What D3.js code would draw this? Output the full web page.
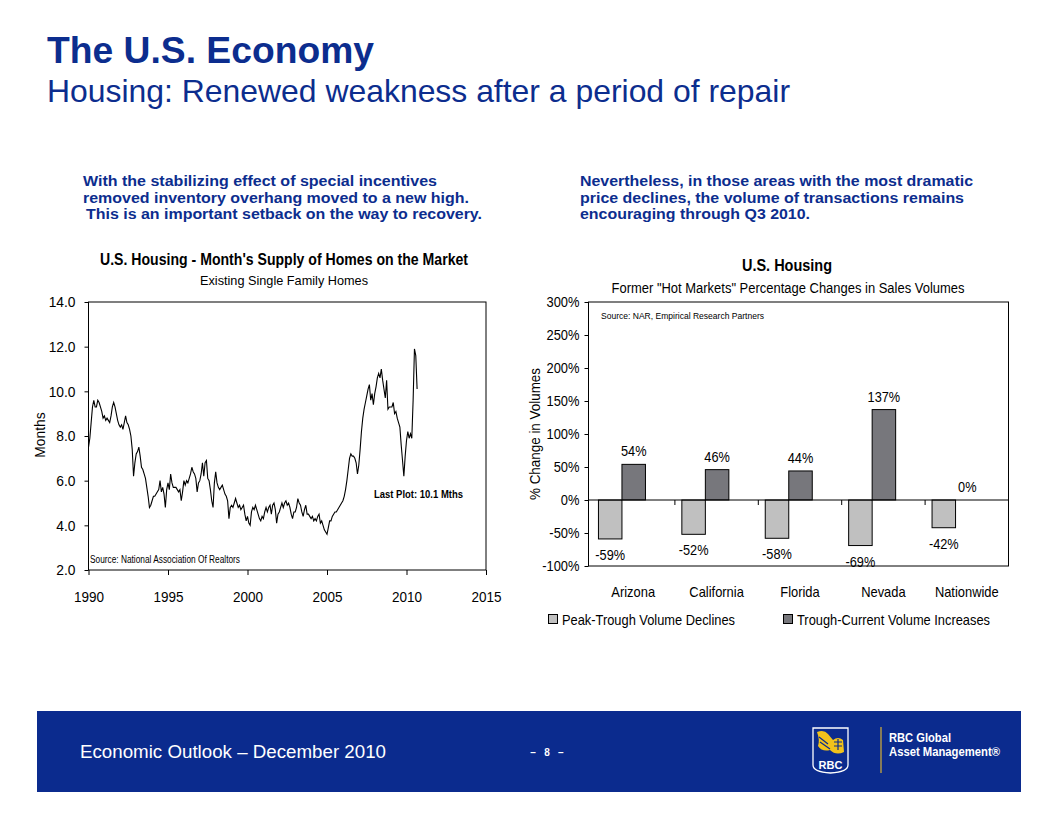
<!DOCTYPE html>
<html>
<head>
<meta charset="utf-8">
<script src="https://cdn.jsdelivr.net/npm/d3@7"></script>
<style>
  body { margin: 0; background: #fff; }
  svg text { font-family: "Liberation Sans", Arial, sans-serif; }
</style>
</head>
<body>
<div id="slide"></div>
<script>
// month's supply of existing single family homes, monthly from Jan 1990
const supplyStart = 1990;
const monthsSupply = [
    7.5, 7.9, 8.6, 9.3, 9.6, 9.3, 9.3, 9.6, 9.5, 9.3, 9.1, 8.8,   // 1990
    8.9, 8.7, 8.8, 8.7, 8.6, 8.9, 9.3, 9.5, 9.3, 9.0, 8.7, 8.5,   // 1991
    8.4, 8.5, 8.3, 8.6, 8.9, 8.6, 8.5, 8.3, 8.0, 7.4, 6.2, 6.8,   // 1992
    7.2, 7.3, 7.5, 7.1, 6.6, 6.5, 6.3, 6.1, 5.7, 5.3, 4.8, 4.9,   // 1993
    5.1, 5.3, 5.3, 5.4, 5.5, 5.6, 6.0, 5.5, 5.7, 5.4, 4.8, 5.6,   // 1994
    5.9, 5.6, 6.3, 5.9, 5.7, 5.7, 5.7, 5.6, 5.5, 5.6, 5.1, 5.5,   // 1995
    6.0, 5.8, 6.0, 5.9, 6.1, 6.3, 6.6, 6.4, 6.3, 6.1, 5.5, 5.9,   // 1996
    6.0, 6.3, 6.8, 6.2, 6.8, 6.9, 6.1, 6.0, 5.6, 5.1, 4.8, 5.9,   // 1997
    6.4, 5.9, 5.7, 5.6, 5.7, 5.8, 5.6, 5.4, 5.3, 5.1, 4.3, 4.8,   // 1998
    4.9, 4.8, 5.0, 5.2, 5.0, 4.8, 4.9, 4.7, 4.8, 4.9, 4.5, 4.2,   // 1999
    4.4, 4.1, 4.0, 4.6, 4.8, 4.7, 4.9, 4.7, 4.5, 4.3, 4.2, 4.4,   // 2000
    4.3, 4.6, 4.8, 4.6, 4.8, 4.9, 4.5, 4.9, 5.0, 4.7, 4.1, 4.5,   // 2001
    4.6, 4.8, 5.0, 4.8, 5.0, 5.1, 4.9, 5.0, 4.8, 4.5, 4.3, 4.6,   // 2002
    4.6, 4.8, 5.2, 5.0, 4.9, 4.6, 4.4, 4.7, 4.9, 4.5, 4.5, 4.4,   // 2003
    4.3, 4.4, 4.2, 4.3, 4.2, 4.4, 4.5, 4.1, 4.2, 4.0, 3.8, 3.7,   // 2004
    3.6, 3.9, 4.2, 4.2, 4.4, 4.5, 4.6, 4.6, 4.7, 4.8, 4.9, 5.0,   // 2005
    5.1, 5.3, 5.6, 6.0, 6.5, 7.0, 7.2, 7.1, 7.1, 7.0, 6.8, 6.3,   // 2006
    6.7, 7.4, 8.2, 8.8, 9.2, 9.5, 9.8, 10.1, 10.3, 9.6, 9.9, 9.4, // 2007
    9.9, 10.2, 10.6, 10.8, 10.6, 11.0, 10.5, 10.1, 9.7, 10.5, 9.2, 9.3, // 2008
    9.3, 9.3, 9.5, 9.0, 9.1, 8.8, 8.6, 8.4, 7.6, 6.9, 6.2, 7.1,   // 2009
    7.8, 8.2, 7.9, 8.1, 7.9, 9.6, 11.9, 11.6, 10.1                // 2010
];
const supplyYearTicks = [1990, 1995, 2000, 2005, 2010, 2015];
const supplyValueTicks = [2, 4, 6, 8, 10, 12, 14];

// former "hot markets" sales volume changes (%)
const markets = ['Arizona', 'California', 'Florida', 'Nevada', 'Nationwide'];
const peakTrough = [-59, -52, -58, -69, -42];
const troughCurrent = [54, 46, 44, 137, 0];
const seriesNames = ['Peak-Trough Volume Declines', 'Trough-Current Volume Increases'];
const pctTicks = [-100, -50, 0, 50, 100, 150, 200, 250, 300];

const navy = '#0c2d8e';

let svg = d3.select('#slide').append('svg')
    .attr('width', 1056)
    .attr('height', 816);

// squeeze text to a given width (the source uses a narrow face)
function fit(sel, w) {
    return sel.attr('textLength', w).attr('lengthAdjust', 'spacingAndGlyphs');
}
// squeeze text by a factor of its own width
function condense(sel, k) {
    sel.each(function () {
        let w = this.getComputedTextLength();
        d3.select(this).attr('textLength', w * k).attr('lengthAdjust', 'spacingAndGlyphs');
    });
    return sel;
}

// ---------- slide header ----------
fit(svg.append('text')
    .attr('x', 47).attr('y', 63)
    .attr('fill', navy)
    .attr('font-size', 36).attr('font-weight', 'bold')
    .text('The U.S. Economy'), 327);
fit(svg.append('text')
    .attr('x', 47).attr('y', 102)
    .attr('fill', navy)
    .attr('font-size', 32)
    .text('Housing: Renewed weakness after a period of repair'), 743);

// commentary above each chart
function addNote(x, lines) {
    lines.forEach((l, i) => {
        fit(svg.append('text')
            .attr('x', x + l.dx).attr('y', 186 + i * 16.5)
            .attr('fill', navy)
            .attr('font-size', 14.5).attr('font-weight', 'bold')
            .text(l.t), l.w);
    });
}
addNote(83, [
    { t: 'With the stabilizing effect of special incentives', dx: 0, w: 354 },
    { t: 'removed inventory overhang moved to a new high.', dx: 0, w: 386 },
    { t: 'This is an important setback on the way to recovery.', dx: 3, w: 396 }
]);
addNote(580, [
    { t: 'Nevertheless, in those areas with the most dramatic', dx: 0, w: 393 },
    { t: 'price declines, the volume of transactions remains', dx: 0, w: 384 },
    { t: 'encouraging through Q3 2010.', dx: 0, w: 230 }
]);

// ---------- left chart: month's supply ----------
let left = svg.append('g');
let x = d3.scaleLinear().domain([1990, 2015]).range([88.5, 486]);
let y = d3.scaleLinear().domain([2, 14]).range([570, 302]);

fit(left.append('text')
    .attr('x', 284).attr('y', 265)
    .attr('text-anchor', 'middle')
    .attr('font-size', 16).attr('font-weight', 'bold')
    .text("U.S. Housing - Month's Supply of Homes on the Market"), 368);
fit(left.append('text')
    .attr('x', 284).attr('y', 285)
    .attr('text-anchor', 'middle')
    .attr('font-size', 13)
    .text('Existing Single Family Homes'), 168);

// plot frame
left.append('rect')
    .attr('x', x(1990)).attr('y', y(14))
    .attr('width', x(2015) - x(1990)).attr('height', y(2) - y(14))
    .attr('fill', 'none').attr('stroke', 'black');

let yAxisL = d3.axisLeft(y)
    .tickValues(supplyValueTicks)
    .tickFormat(d3.format('.1f'))
    .tickSize(4).tickPadding(9);
left.append('g')
    .attr('transform', `translate(${x(1990)},0)`)
    .call(yAxisL)
    .call(g => g.select('.domain').remove())
    .selectAll('text').attr('font-size', 15).attr('fill', 'black')
    .call(condense, 0.92);

let xAxisL = d3.axisBottom(x)
    .tickValues(supplyYearTicks)
    .tickFormat(d3.format('d'))
    .tickSize(5).tickPadding(16);
left.append('g')
    .attr('transform', `translate(0,${y(2)})`)
    .call(xAxisL)
    .call(g => g.select('.domain').remove())
    .selectAll('text').attr('font-size', 15).attr('fill', 'black')
    .call(condense, 0.9);

left.append('text')
    .attr('transform', 'translate(45,435) rotate(-90)')
    .attr('text-anchor', 'middle')
    .attr('font-size', 15)
    .text('Months')
    .call(condense, 0.92);

let supplyLine = d3.line()
    .x((d, i) => x(supplyStart + i / 12))
    .y(d => y(d));
left.append('path')
    .datum(monthsSupply)
    .attr('d', supplyLine)
    .attr('fill', 'none')
    .attr('stroke', 'black')
    .attr('stroke-width', 1.1);

fit(left.append('text')
    .attr('x', 374).attr('y', 498)
    .attr('font-size', 11).attr('font-weight', 'bold')
    .text('Last Plot: ' + d3.format('.1f')(monthsSupply[monthsSupply.length - 1]) + ' Mths'), 89);
fit(left.append('text')
    .attr('x', 90).attr('y', 563)
    .attr('font-size', 10)
    .text('Source: National Association Of Realtors'), 150);

// ---------- right chart: sales volumes ----------
let right = svg.append('g');
let xb = d3.scaleBand().domain(markets).range([591.5, 1008.5]);
let yb = d3.scaleLinear().domain([-100, 300]).range([566, 302]);
let barW = 23.5;

fit(right.append('text')
    .attr('x', 787).attr('y', 271)
    .attr('text-anchor', 'middle')
    .attr('font-size', 16).attr('font-weight', 'bold')
    .text('U.S. Housing'), 90);
fit(right.append('text')
    .attr('x', 788).attr('y', 293)
    .attr('text-anchor', 'middle')
    .attr('font-size', 14)
    .text('Former "Hot Markets" Percentage Changes in Sales Volumes'), 353);

right.append('rect')
    .attr('x', 588.5).attr('y', yb(300))
    .attr('width', 1008.5 - 588.5).attr('height', yb(-100) - yb(300))
    .attr('fill', 'none').attr('stroke', 'black');

let yAxisR = d3.axisLeft(yb)
    .tickValues(pctTicks)
    .tickFormat(d => d + '%')
    .tickSize(4).tickPadding(5);
right.append('g')
    .attr('transform', 'translate(588.5,0)')
    .call(yAxisR)
    .call(g => g.select('.domain').remove())
    .selectAll('text')
    .attr('font-size', 15).attr('fill', 'black')
    .call(condense, 0.86);

fit(right.append('text')
    .attr('transform', 'translate(540,434) rotate(-90)')
    .attr('text-anchor', 'middle')
    .attr('font-size', 15)
    .text('% Change in Volumes'), 132);

fit(right.append('text')
    .attr('x', 601).attr('y', 319)
    .attr('font-size', 9.5)
    .text('Source:  NAR, Empirical Research Partners'), 163);

// bars: light = declines, dark = increases
let groups = right.selectAll('g.market')
    .data(markets)
    .enter().append('g')
    .attr('class', 'market')
    .attr('transform', d => `translate(${xb(d) + xb.bandwidth() / 2},0)`);

groups.append('rect')
    .attr('x', -barW * 1.5 + 0.5)
    .attr('y', (d, i) => yb(Math.max(0, peakTrough[i])))
    .attr('width', barW)
    .attr('height', (d, i) => Math.abs(yb(peakTrough[i]) - yb(0)))
    .attr('fill', '#c0c0c0').attr('stroke', 'black');
groups.append('rect')
    .attr('x', -barW / 2 + 0.5)
    .attr('y', (d, i) => yb(Math.max(0, troughCurrent[i])))
    .attr('width', barW)
    .attr('height', (d, i) => Math.abs(yb(troughCurrent[i]) - yb(0)))
    .attr('fill', '#77777c').attr('stroke', 'black');

groups.append('text')
    .attr('x', -barW + 0.5)
    .attr('y', (d, i) => yb(peakTrough[i]) + 21)
    .attr('text-anchor', 'middle')
    .attr('font-size', 15)
    .text((d, i) => peakTrough[i] + '%')
    .call(condense, 0.85);
groups.append('text')
    .attr('x', 0.5)
    .attr('y', (d, i) => yb(troughCurrent[i]) - 8)
    .attr('text-anchor', 'middle')
    .attr('font-size', 15)
    .text((d, i) => troughCurrent[i] + '%')
    .call(condense, 0.85);

// zero line with category dividers
right.append('line')
    .attr('x1', 588.5).attr('x2', 1008.5)
    .attr('y1', yb(0)).attr('y2', yb(0))
    .attr('stroke', 'black');
right.selectAll('line.divider')
    .data(markets.slice(1))
    .enter().append('line')
    .attr('class', 'divider')
    .attr('x1', d => xb(d)).attr('x2', d => xb(d))
    .attr('y1', yb(0)).attr('y2', yb(0) + 5)
    .attr('stroke', 'black');

right.selectAll('text.cat')
    .data(markets)
    .enter().append('text')
    .attr('class', 'cat')
    .attr('x', d => xb(d) + xb.bandwidth() / 2)
    .attr('y', 597)
    .attr('text-anchor', 'middle')
    .attr('font-size', 15)
    .text(d => d)
    .call(condense, 0.86);

// legend
let legendX = [548, 783];
let legendW = [173, 193];
let legendFill = ['#c0c0c0', '#77777c'];
seriesNames.forEach((name, i) => {
    right.append('rect')
        .attr('x', legendX[i] + 0.5).attr('y', 614.5)
        .attr('width', 9).attr('height', 9)
        .attr('fill', legendFill[i]).attr('stroke', 'black');
    fit(right.append('text')
        .attr('x', legendX[i] + 14).attr('y', 625)
        .attr('font-size', 15)
        .text(name), legendW[i]);
});

// ---------- footer band ----------
let foot = svg.append('g');
foot.append('rect')
    .attr('x', 37).attr('y', 711)
    .attr('width', 984).attr('height', 81)
    .attr('fill', '#0b2b8e');
fit(foot.append('text')
    .attr('x', 80).attr('y', 758)
    .attr('fill', 'white')
    .attr('font-size', 18)
    .text('Economic Outlook \u2013 December 2010'), 306);
foot.append('text')
    .attr('x', 547).attr('y', 756)
    .attr('text-anchor', 'middle')
    .attr('fill', 'white')
    .attr('font-size', 10).attr('font-weight', 'bold')
    .attr('xml:space', 'preserve')
    .text('\u2013   8   \u2013');

// RBC shield
foot.append('path')
    .attr('d', 'M813,728 L848,728 L848,765 Q848,772 830.5,773 Q813,772 813,765 Z')
    .attr('fill', '#0b2b8e').attr('stroke', 'white').attr('stroke-width', 1.3);
foot.append('path')
    .attr('d', 'M817,732 Q824,729 828,734 L833,740 Q838,736 843,740 L844,752 Q836,756 830,750 Q822,752 818,746 Q820,740 817,732 Z')
    .attr('fill', '#f1c21b');
foot.append('path')
    .attr('d', 'M819,737 L828,744 M820,742 L830,749 M834,742 L842,742 M834,746 L842,746 M838,739 L838,750')
    .attr('stroke', '#0b2b8e').attr('stroke-width', 1.2);
foot.append('text')
    .attr('x', 830.5).attr('y', 769)
    .attr('text-anchor', 'middle')
    .attr('fill', 'white')
    .attr('font-size', 11).attr('font-weight', 'bold')
    .text('RBC');
foot.append('line')
    .attr('x1', 881).attr('x2', 881)
    .attr('y1', 727).attr('y2', 773)
    .attr('stroke', '#c9a73c').attr('stroke-width', 1.3);
fit(foot.append('text')
    .attr('x', 889).attr('y', 742)
    .attr('fill', 'white')
    .attr('font-family', '"Open Sans", sans-serif')
    .attr('font-size', 12.5).attr('font-weight', 'bold')
    .text('RBC Global'), 62);
fit(foot.append('text')
    .attr('x', 889).attr('y', 756)
    .attr('fill', 'white')
    .attr('font-family', '"Open Sans", sans-serif')
    .attr('font-size', 12.5).attr('font-weight', 'bold')
    .text('Asset Management\u00ae'), 111);
</script>
</body>
</html>
